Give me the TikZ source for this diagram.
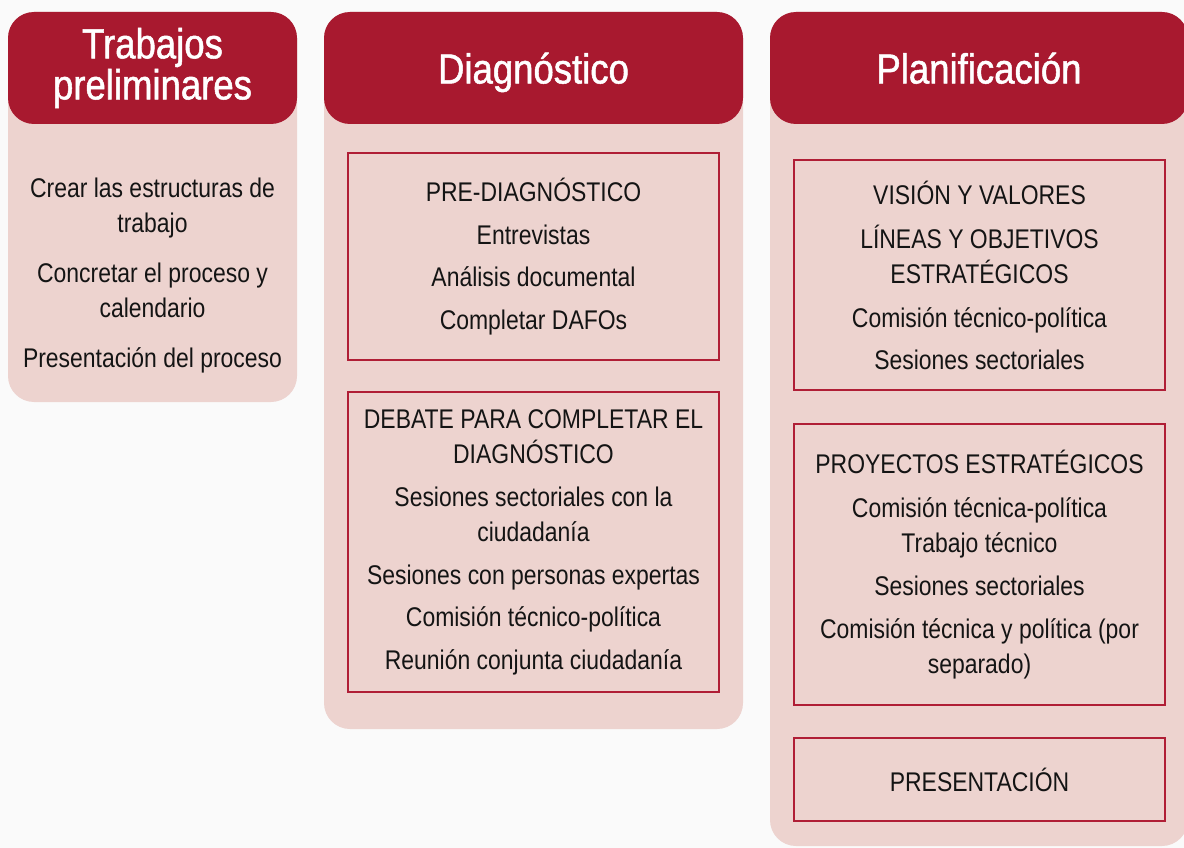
\documentclass[tikz,border=0pt]{standalone}
\usepackage{fontspec}
\setmainfont{Liberation Sans}[FakeStretch=0.85]
\newfontfamily\headfont{Liberation Sans}[FakeStretch=0.87, FakeBold=1.2]
\definecolor{headred}{HTML}{A8192F}
\definecolor{panelpink}{HTML}{EDD3CF}
\definecolor{boxred}{HTML}{B01E36}
\definecolor{backgrey}{HTML}{FAFAFA}

\begin{document}
\begin{tikzpicture}[x=1pt,y=-1pt,
	panel/.style={shape=rectangle, fill=panelpink, rounded corners=26pt, inner sep=0pt},
	header/.style={shape=rectangle, fill=headred, rounded corners=26pt, text=white, align=center, inner sep=0pt, minimum height=112pt, font=\headfont\fontsize{42}{41}\selectfont},
	stage/.style={shape=rectangle, draw=boxred, line width=2pt, align=center, inner sep=0pt, minimum width=371pt, text=black!92, font=\fontsize{27}{35}\selectfont},
	items/.style={align=center, text=black!92, font=\fontsize{27}{35}\selectfont}]
	\useasboundingbox (0,0) rectangle (1184,848);
	\fill[backgrey] (0,0) rectangle (1184,848);

	\node[panel, minimum width=289pt, minimum height=390pt] (prelimpanel) at (152.5,207)   {};
	\node[panel, minimum width=419pt, minimum height=717pt] (diagpanel)   at (533.5,370.5) {};
	\node[panel, minimum width=418pt, minimum height=834pt] (planpanel)   at (979,429)     {};

	\node[header, minimum width=289pt] (prelimhead) at (152.5,68) {Trabajos\\preliminares};
	\node[header, minimum width=419pt, text depth=0pt] (diaghead) at (533.5,68) {Diagnóstico};
	\node[header, minimum width=418pt, text depth=0pt] (planhead) at (979,68)   {Planificación};

	\node[items] (prelimitems) at (152.5,276) {Crear las estructuras de\\trabajo\\[15pt]Concretar el proceso y\\calendario\\[15pt]Presentación del proceso};

	\node[stage, minimum height=207pt] (prediag) at (533.5,256.5) {PRE-DIAGNÓSTICO\\[8pt]Entrevistas\\[7pt]Análisis documental\\[8pt]Completar DAFOs};
	\node[stage, minimum height=300pt] (debate)  at (533.5,542)   {DEBATE PARA COMPLETAR EL\\DIAGNÓSTICO\\[8pt]Sesiones sectoriales con la\\ciudadanía\\[8pt]Sesiones con personas expertas\\[7pt]Comisión técnico-política\\[8pt]Reunión conjunta ciudadanía};

	\node[stage, minimum height=230pt] (vision)    at (979.5,275)   {VISIÓN Y VALORES\\[9pt]LÍNEAS Y OBJETIVOS\\ESTRATÉGICOS\\[9pt]Comisión técnico-política\\[7pt]Sesiones sectoriales};
	\node[stage, minimum height=281pt] (proyectos) at (979.5,564.5) {PROYECTOS ESTRATÉGICOS\\[9pt]Comisión técnica-política\\Trabajo técnico\\[8pt]Sesiones sectoriales\\[8pt]Comisión técnica y política (por\\separado)};
	\node[stage, minimum height=83pt]  (presenta)  at (979.5,779.5) {PRESENTACIÓN};
\end{tikzpicture}
\end{document}
